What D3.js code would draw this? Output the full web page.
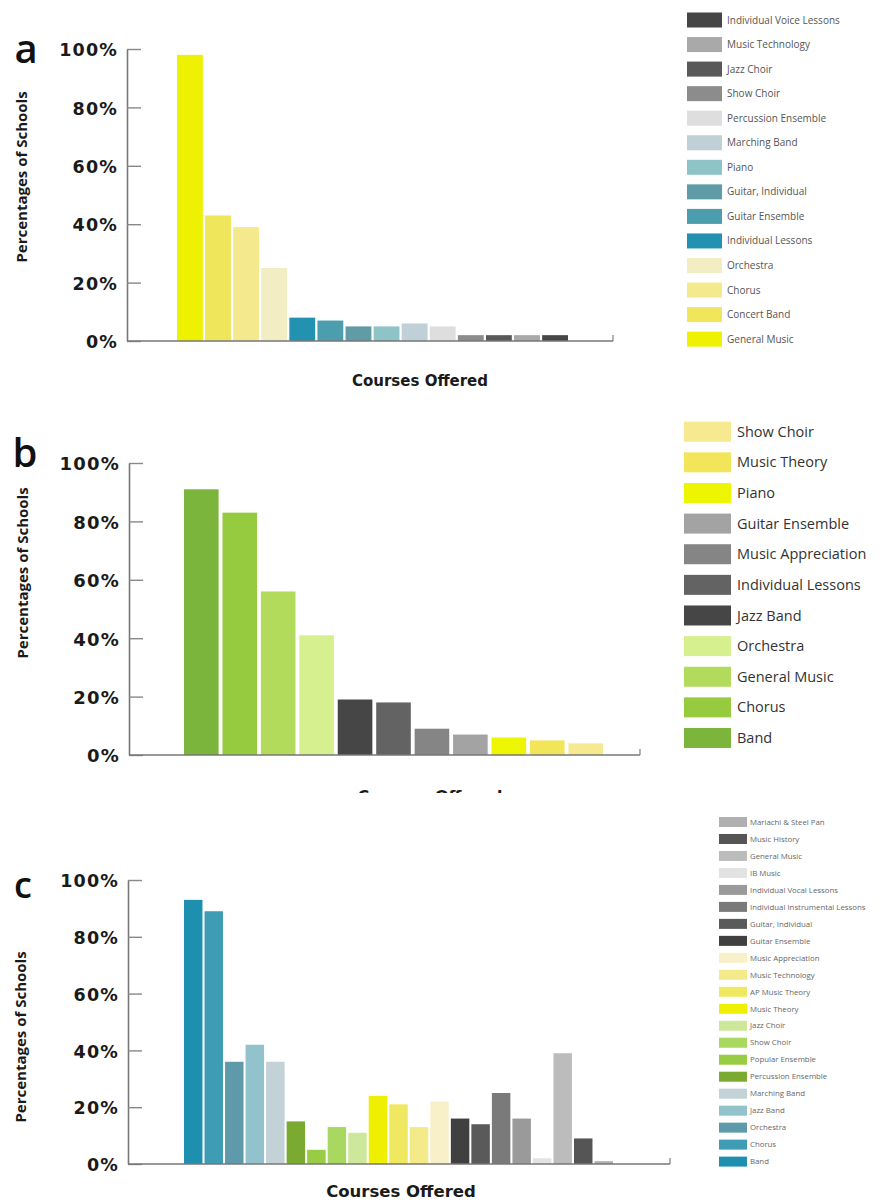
<!DOCTYPE html>
<html>
<head>
<meta charset="utf-8">
<script src="https://cdn.jsdelivr.net/npm/d3@7"></script>
<style>
  html, body { margin: 0; padding: 0; background: #ffffff; }
  svg { display: block; }
</style>
</head>
<body>
<svg id="chart" width="885" height="1202"></svg>
<script>
// ---------------- DATA ----------------
const tickValues = [0, 20, 40, 60, 80, 100];
const tickLabels = ["0%", "20%", "40%", "60%", "80%", "100%"];
const yAxisTitle = "Percentages of Schools";
const xAxisTitle = "Courses Offered";

// Panel a
const aCategories = ["General Music", "Concert Band", "Chorus", "Orchestra", "Individual Lessons",
  "Guitar Ensemble", "Guitar, Individual", "Piano", "Marching Band", "Percussion Ensemble",
  "Show Choir", "Jazz Choir", "Music Technology", "Individual Voice Lessons"];
const aValues = [98, 43, 39, 25, 8, 7, 5, 5, 6, 5, 2, 2, 2, 2];
const aColors = ["#eef200", "#f0e65c", "#f5e98e", "#f3edc4", "#2292b0",
  "#4c9dad", "#5f9ca6", "#8ec4c6", "#bfd0d6", "#dedede",
  "#8c8c8c", "#595959", "#a9a9a9", "#464646"];

// Panel b
const bCategories = ["Band", "Chorus", "General Music", "Orchestra", "Jazz Band",
  "Individual Lessons", "Music Appreciation", "Guitar Ensemble", "Piano", "Music Theory", "Show Choir"];
const bValues = [91, 83, 56, 41, 19, 18, 9, 7, 6, 5, 4];
const bColors = ["#7bb53b", "#96cb3f", "#b2db5c", "#d6ef8f", "#464646",
  "#636363", "#858585", "#a3a3a3", "#eef500", "#f2e55a", "#f6e98f"];

// Panel c
const cCategories = ["Band", "Chorus", "Orchestra", "Jazz Band", "Marching Band",
  "Percussion Ensemble", "Popular Ensemble", "Show Choir", "Jazz Choir", "Music Theory",
  "AP Music Theory", "Music Technology", "Music Appreciation", "Guitar Ensemble", "Guitar, Individual",
  "Individual Instrumental Lessons", "Individual Vocal Lessons", "IB Music", "General Music",
  "Music History", "Mariachi & Steel Pan"];
const cValues = [93, 89, 36, 42, 36, 15, 5, 13, 11, 24, 21, 13, 22, 16, 14, 25, 16, 2, 39, 9, 1];
const cColors = ["#1f8fb0", "#3e9db5", "#5f9aaa", "#92c2cc", "#c2d2d6",
  "#7aaa30", "#98cc44", "#a8d860", "#cde89a", "#eef000",
  "#f0e860", "#f5ea8a", "#f7f0c8", "#404040", "#5a5a5a",
  "#7a7a7a", "#9a9a9a", "#e2e2e2", "#bcbcbc", "#555555", "#b0b0b0"];

// ---------------- LAYOUT ----------------
const panels = [
  { id: "a", cats: aCategories, vals: aValues, cols: aColors,
    axisX: 127, y0: 341, y100: 49, barStart: 177, barEnd: 568, pad: 0.08, axisEnd: 613,
    tickFont: 17.5, xTitle: { x: 420, y: 386, size: 15 }, clipTitle: null,
    yTitle: { x: 27, y: 177, size: 15 }, label: { x: 26, y: 63, size: 40 },
    legend: { x: 687, y: 20, step: 24.55, sw: 35, sh: 15, tx: 727, font: 10, color: "#555" } },
  { id: "b", cats: bCategories, vals: bValues, cols: bColors,
    axisX: 129, y0: 755, y100: 463, barStart: 184, barEnd: 603, pad: 0.1, axisEnd: 640,
    tickFont: 18, xTitle: { x: 430, y: 802, size: 16 }, clipTitle: 793,
    yTitle: { x: 28, y: 573, size: 15 }, label: { x: 25, y: 467, size: 40 },
    legend: { x: 684, y: 431.7, step: 30.63, sw: 47, sh: 20, tx: 737, font: 14.5, color: "#333" } },
  { id: "c", cats: cCategories, vals: cValues, cols: cColors,
    axisX: 128, y0: 1164, y100: 880, barStart: 184, barEnd: 613, pad: 0.1, axisEnd: 670,
    tickFont: 17.5, xTitle: { x: 401, y: 1197, size: 16.5 }, clipTitle: null,
    yTitle: { x: 26, y: 1037, size: 15 }, label: { x: 23, y: 898, size: 36 },
    legend: { x: 719, y: 822, step: 16.98, sw: 28, sh: 10, tx: 750, font: 7.8, color: "#666" } }
];

const svg = d3.select("#chart");
const defs = svg.append("defs");

panels.forEach(p => {
  const g = svg.append("g").attr("class", "panel-" + p.id);

  const y = d3.scaleLinear().domain([0, 100]).range([p.y0, p.y100]);
  const x = d3.scaleBand().domain(p.cats).range([p.barStart, p.barEnd])
    .paddingInner(p.pad).paddingOuter(0);
  const color = d3.scaleOrdinal().domain(p.cats).range(p.cols);

  // bars
  g.append("g").selectAll("rect")
    .data(p.cats.map((c, i) => ({ cat: c, val: p.vals[i] })))
    .join("rect")
    .attr("x", d => x(d.cat))
    .attr("y", d => y(d.val))
    .attr("width", x.bandwidth())
    .attr("height", d => y(0) - y(d.val))
    .attr("fill", d => color(d.cat));

  // y axis
  const yAxis = d3.axisLeft(y)
    .tickValues(tickValues)
    .tickFormat((d, i) => tickLabels[i])
    .tickSizeInner(-14)
    .tickSizeOuter(0)
    .tickPadding(9);
  const ya = g.append("g").attr("transform", `translate(${p.axisX},0)`).call(yAxis);
  ya.select(".domain").attr("stroke", "#777").attr("stroke-width", 1.6);
  ya.selectAll(".tick line").attr("stroke", "#888").attr("stroke-width", 1.4);
  ya.selectAll(".tick text")
    .attr("fill", "#1a1a1a")
    .style("font-family", "'DejaVu Sans', sans-serif")
    .style("font-weight", "bold")
    .style("font-size", p.tickFont + "px")
    .style("letter-spacing", "1.2px")
    .attr("dy", "0.38em");

  // x baseline
  g.append("line")
    .attr("x1", p.axisX).attr("x2", p.axisEnd)
    .attr("y1", y(0)).attr("y2", y(0))
    .attr("stroke", "#777").attr("stroke-width", 1.6);
  g.append("line")
    .attr("x1", p.axisEnd).attr("x2", p.axisEnd)
    .attr("y1", y(0)).attr("y2", y(0) - 6)
    .attr("stroke", "#888").attr("stroke-width", 1.3);

  // x title
  const xt = g.append("text")
    .attr("x", p.xTitle.x).attr("y", p.xTitle.y)
    .attr("text-anchor", "middle")
    .attr("fill", "#1a1a1a")
    .style("font-family", "'DejaVu Sans', sans-serif")
    .style("font-weight", "bold")
    .style("font-size", p.xTitle.size + "px")
    .text(xAxisTitle);
  if (p.clipTitle) {
    const cid = "clip-" + p.id;
    defs.append("clipPath").attr("id", cid)
      .append("rect").attr("x", 0).attr("y", 0).attr("width", 885).attr("height", p.clipTitle);
    xt.attr("clip-path", `url(#${cid})`);
  }

  // y title
  g.append("text")
    .attr("transform", `translate(${p.yTitle.x},${p.yTitle.y}) rotate(-90)`)
    .attr("text-anchor", "middle")
    .attr("fill", "#1a1a1a")
    .style("font-family", "'Open Sans', sans-serif")
    .style("font-weight", "bold")
    .style("font-size", p.yTitle.size + "px")
    .text(yAxisTitle);

  // panel label
  g.append("text")
    .attr("x", p.label.x).attr("y", p.label.y)
    .attr("text-anchor", "middle")
    .attr("fill", "#111")
    .style("font-family", "'Open Sans', sans-serif")
    .style("font-weight", "600")
    .style("font-size", p.label.size + "px")
    .text(p.id);

  // legend (reverse order: last category at top)
  const L = p.legend;
  const legendCats = p.cats.slice().reverse();
  const lg = g.append("g");
  const items = lg.selectAll("g").data(legendCats).join("g")
    .attr("transform", (d, i) => `translate(0,${L.y + i * L.step})`);
  items.append("rect")
    .attr("x", L.x).attr("y", -L.sh / 2)
    .attr("width", L.sw).attr("height", L.sh)
    .attr("fill", d => color(d));
  items.append("text")
    .attr("x", L.tx).attr("y", 0).attr("dy", "0.35em")
    .attr("fill", L.color)
    .style("font-family", "'Open Sans', sans-serif")
    .style("font-size", L.font + "px")
    .text(d => d);
});
</script>
</body>
</html>
